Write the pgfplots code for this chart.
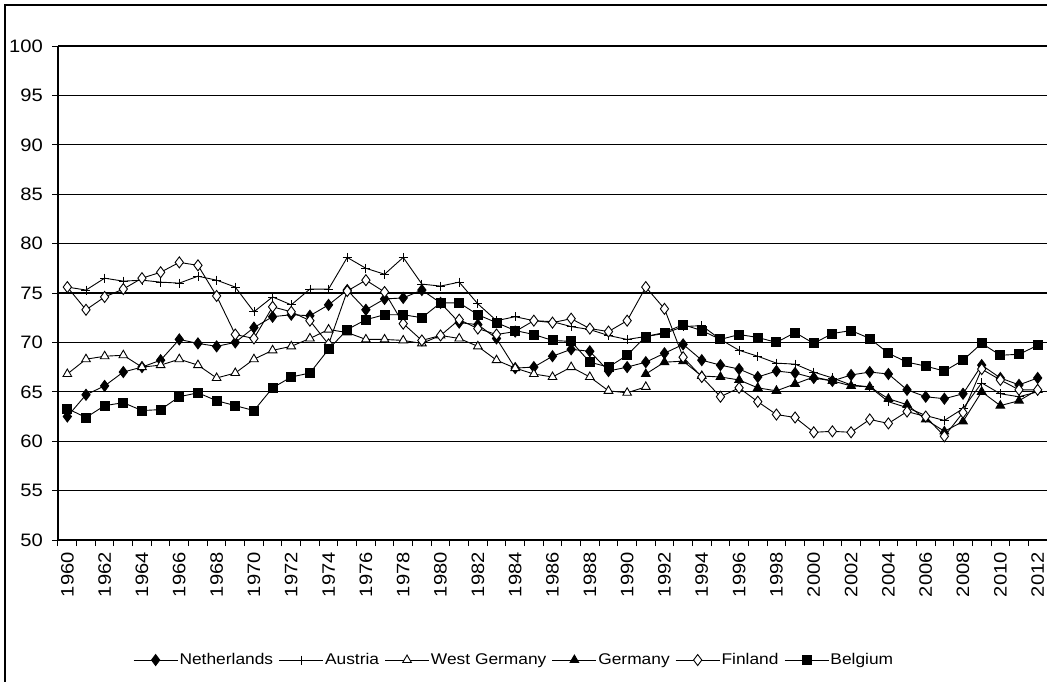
\documentclass[border=0pt]{standalone}
\usepackage{fontspec}
\setmainfont{Liberation Sans}[FakeStretch=1.12]
\usepackage{pgfplots}
\usepackage{pgfplotstable}
\pgfplotsset{compat=1.18}

\pgfplotstableread{
year NL AT WG DE FI BE
1960 62.5 75.6 66.8 nan 75.6 63.3
1961 64.7 75.3 68.3 nan 73.3 62.4
1962 65.6 76.5 68.6 nan 74.6 63.6
1963 67.0 76.2 68.7 nan 75.4 63.9
1964 67.5 76.3 67.5 nan 76.5 63.1
1965 68.2 76.1 67.7 nan 77.1 63.2
1966 70.3 76.0 68.3 nan 78.1 64.5
1967 69.9 76.7 67.7 nan 77.8 64.9
1968 69.6 76.3 66.4 nan 74.7 64.1
1969 70.0 75.6 66.9 nan 70.8 63.6
1970 71.5 73.1 68.3 nan 70.4 63.1
1971 72.6 74.6 69.2 nan 73.6 65.4
1972 72.8 73.8 69.6 nan 73.1 66.5
1973 72.7 75.4 70.4 nan 72.2 66.9
1974 73.8 75.4 71.3 nan 69.8 69.3
1975 75.3 78.6 71.0 nan 75.2 71.3
1976 73.3 77.5 70.3 nan 76.3 72.3
1977 74.4 76.9 70.3 nan 75.1 72.8
1978 74.5 78.6 70.2 nan 71.9 72.8
1979 75.3 75.9 69.9 nan 70.2 72.5
1980 74.0 75.7 70.7 nan 70.7 74.0
1981 72.0 76.1 70.4 nan 72.3 74.0
1982 71.8 73.9 69.6 nan 71.4 72.8
1983 70.4 72.2 68.2 nan 70.8 72.0
1984 67.4 72.6 67.4 nan 71.1 71.2
1985 67.5 72.2 66.8 nan 72.2 70.8
1986 68.6 72.1 66.5 nan 72.0 70.2
1987 69.3 71.6 67.5 nan 72.4 70.1
1988 69.1 71.3 66.5 nan 71.4 68.0
1989 67.1 70.7 65.1 nan 71.1 67.5
1990 67.5 70.3 64.9 nan 72.2 68.7
1991 68.0 70.6 65.5 66.8 75.6 70.6
1992 68.9 70.9 nan 68.0 73.4 71.0
1993 69.8 71.6 nan 68.1 68.5 71.8
1994 68.2 71.7 nan 66.6 66.5 71.2
1995 67.7 70.3 nan 66.5 64.5 70.3
1996 67.3 69.2 nan 66.2 65.4 70.8
1997 66.5 68.6 nan 65.4 64.0 70.5
1998 67.1 67.9 nan 65.1 62.7 70.0
1999 66.9 67.8 nan 65.8 62.4 71.0
2000 66.4 67.0 nan 66.5 60.9 69.9
2001 66.1 66.4 nan 66.1 61.0 70.9
2002 66.7 65.7 nan 65.6 60.9 71.2
2003 67.0 65.5 nan 65.5 62.2 70.4
2004 66.8 64.0 nan 64.3 61.8 68.9
2005 65.2 63.4 nan 63.7 63.0 68.0
2006 64.5 62.6 nan 62.2 62.5 67.6
2007 64.3 62.1 nan 61.0 60.5 67.1
2008 64.8 63.3 nan 62.0 62.9 68.2
2009 67.7 65.9 nan 65.0 67.3 69.9
2010 66.4 64.8 nan 63.6 66.2 68.7
2011 65.7 64.5 nan 64.1 65.2 68.8
2012 66.4 65.0 nan 65.2 65.2 69.7
}\rates

\begin{document}
\begin{tikzpicture}
\begin{axis}[
   at={(58pt,-540pt)}, anchor=south west,
   scale only axis, width=989pt, height=494pt,
   xmin=1959.5, xmax=2012.5, ymin=50, ymax=100,
   axis lines*=left, axis line style={black, line width=1.2pt},
   ymajorgrids, grid style={black, line width=1.2pt},
   xtick={1960,1962,...,2012},
   minor xtick={1959.5,1960.5,...,2012.5},
   ytick={50,55,...,100},
   tick align=outside,
   major tick length=6pt, minor tick length=6pt,
   major x tick style={draw=none},
   minor x tick style={black, line width=1pt},
   major y tick style={black, line width=1pt},
   /pgf/number format/assume math mode=true,
   x tick label style={/pgf/number format/1000 sep={}, rotate=90, anchor=east,
      inner sep=0pt, xshift=-6pt, font=\fontsize{18}{18}\selectfont},
   y tick label style={anchor=east, inner sep=0pt, xshift=-9pt,
      font=\fontsize{18}{18}\selectfont},
   unbounded coords=jump,
   every axis plot/.append style={black, line width=0.9pt,
      mark options={solid, line width=0.8pt}},
   legend style={at={(0.461,-0.243)}, anchor=center, draw=none, fill=none,
      legend columns=-1, font=\fontsize{15.5}{16}\selectfont,
      /tikz/every even column/.append style={column sep=4pt},
      nodes={inner sep=1.5pt}},
   legend image code/.code={\draw[mark repeat=2,mark phase=2]
      plot coordinates {(0pt,0pt) (22pt,0pt) (44pt,0pt)};},
]
\addplot[mark=diamond*, mark size=5.5pt, mark options={fill=black}] table[x=year,y=NL] {\rates};
\addlegendentry{Netherlands}
\addplot[mark=+, mark size=4.5pt] table[x=year,y=AT] {\rates};
\addlegendentry{Austria}
\addplot[mark=triangle*, mark size=5pt, mark options={fill=white}] table[x=year,y=WG] {\rates};
\addlegendentry{West Germany}
\addplot[mark=triangle*, mark size=5pt, mark options={fill=black}] table[x=year,y=DE] {\rates};
\addlegendentry{Germany}
\addplot[mark=diamond*, mark size=5.5pt, mark options={fill=white}] table[x=year,y=FI] {\rates};
\addlegendentry{Finland}
\addplot[mark=square*, mark size=4.5pt, mark options={fill=black}] table[x=year,y=BE] {\rates};
\addlegendentry{Belgium}
\end{axis}
\draw[line width=1.5pt] (5pt,-682pt) -- (5pt,-5pt) -- (1047pt,-5pt);
\pgfresetboundingbox
\path (0pt,0pt) rectangle (1047pt,-682pt);
\end{tikzpicture}
\end{document}
